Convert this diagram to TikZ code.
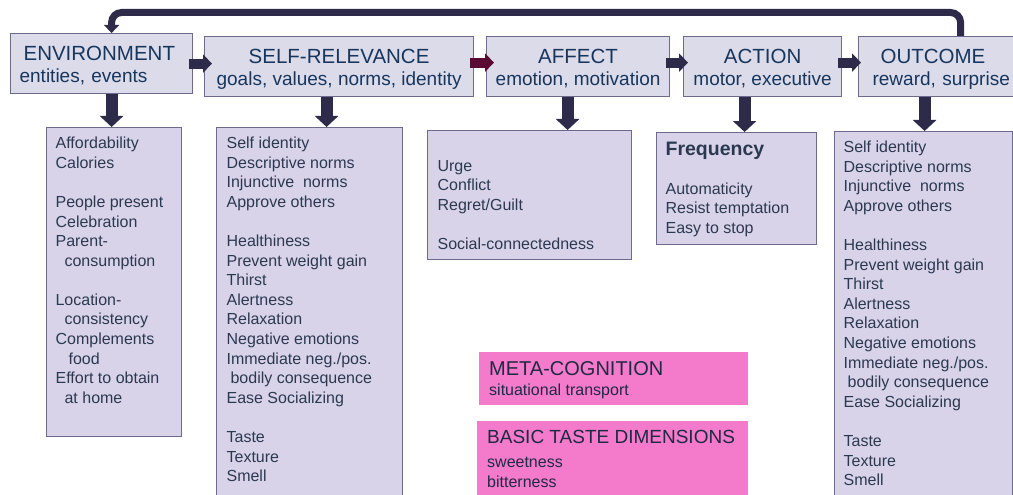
\documentclass[tikz,border=0pt]{standalone}
\usepackage{fontspec}
\setmainfont{Liberation Sans}
\usetikzlibrary{arrows.meta,calc}
\definecolor{arrowdark}{HTML}{2E2A4A}
\definecolor{arrowwine}{HTML}{5A0B33}
\definecolor{hdrfill}{HTML}{DCDBEA}
\definecolor{lstfill}{HTML}{D9D3EA}
\definecolor{boxline}{HTML}{6D6A8C}
\definecolor{pinkfill}{HTML}{F47ACB}
\definecolor{hdrtext}{HTML}{17365D}
\definecolor{lsttext}{HTML}{2B3950}
\definecolor{pinktext}{HTML}{1F2A44}
\newcommand\ttl{\fontsize{20.5}{22}\selectfont\rule{0pt}{19pt}}
\newcommand\fl{\rule{0pt}{12pt}}

\begin{document}
\begin{tikzpicture}[x=1pt,y=-1pt,
  hdr/.style={draw=boxline, line width=1.2pt, fill=hdrfill, anchor=north west, minimum height=60pt, inner sep=0pt, align=center, text=hdrtext, font=\fontsize{19}{22}\selectfont},
  lst/.style={draw=boxline, line width=1.2pt, fill=lstfill, anchor=north west, inner xsep=9pt, inner ysep=9pt, text=lsttext, font=\fontsize{16}{19.6}\selectfont},
  pinkbox/.style={fill=pinkfill, anchor=north west, inner xsep=10pt, inner ysep=9pt, text=pinktext, font=\fontsize{16}{20}\selectfont},
  harr/.style={draw=arrowdark, line width=10pt, -{Triangle[width=18pt,length=9pt]}},
  varr/.style={draw=arrowdark, line width=12pt, -{Triangle[width=23pt,length=11pt]}},
  fb/.style={draw=arrowdark, line width=7pt, rounded corners=10pt, -{Triangle[width=15pt,length=8pt]}}]
  \useasboundingbox (0,0) rectangle (1013,495);
  \clip (0,0) rectangle (1013,495);

  % stages
  \node[hdr, text width=164pt, inner xsep=9pt, align=left] (env) at (10,33) {{\ttl\hspace*{4pt}ENVIRONMENT}\\entities, events};
  \node[hdr, minimum width=269pt] (self) at (204,36) {{\ttl SELF-RELEVANCE}\\goals, values, norms, identity};
  \node[hdr, minimum width=183pt] (affect) at (486,36) {{\ttl AFFECT}\\emotion, motivation};
  \node[hdr, minimum width=158pt] (action) at (683,36) {{\ttl ACTION}\\motor, executive};
  \node[hdr, text width=144pt, inner xsep=14pt, align=left] (outcome) at (858,36) {{\ttl\hspace*{8pt}OUTCOME}\\reward, surprise};

  % determinants per stage
  \node[lst] (envlist) at (46,127) {\parbox[t][291pt][t]{117pt}{\fl Affordability\\Calories\\[19.6pt]People present\\Celebration\\Parent-\\\hspace*{9pt}consumption\\[19.6pt]Location-\\\hspace*{9pt}consistency\\Complements\\\hspace*{13pt}food\\Effort to obtain\\\hspace*{9pt}at home}};
  \node[lst, inner xsep=10pt] (selflist) at (216,127) {\parbox[t][400pt][t]{166pt}{\fl Self identity\\Descriptive norms\\Injunctive\ \ norms\\Approve others\\[19.6pt]Healthiness\\Prevent weight gain\\Thirst\\Alertness\\Relaxation\\Negative emotions\\Immediate neg./pos.\\\hspace*{4pt}bodily consequence\\Ease Socializing\\[19.6pt]Taste\\Texture\\Smell}};
  \node[lst, inner xsep=10pt] (affectlist) at (427,130) {\parbox[t][111pt][t]{184pt}{\fl\\Urge\\Conflict\\Regret/Guilt\\[19.6pt]Social-connectedness}};
  \node[lst] (actionlist) at (656,132) {\parbox[t][94pt][t]{142pt}{{\fontsize{19.5}{20}\selectfont\bfseries Frequency}\\[19.6pt]Automaticity\\Resist temptation\\Easy to stop}};
  \node[lst] (outcomelist) at (834,131) {\parbox[t][400pt][t]{160pt}{\fl Self identity\\Descriptive norms\\Injunctive\ \ norms\\Approve others\\[19.6pt]Healthiness\\Prevent weight gain\\Thirst\\Alertness\\Relaxation\\Negative emotions\\Immediate neg./pos.\\\hspace*{4pt}bodily consequence\\Ease Socializing\\[19.6pt]Taste\\Texture\\Smell}};

  % extra factors
  \node[pinkbox] (meta) at (479,352) {\parbox[t][35pt][t]{249pt}{{\fontsize{20}{20}\selectfont META-COGNITION}\\situational transport}};
  \node[pinkbox] (taste) at (477,421) {\parbox[t][100pt][t]{251pt}{{\fontsize{19}{20}\selectfont BASIC TASTE DIMENSIONS}\\[4pt]sweetness\\bitterness}};

  % flow between stages
  \draw[harr] ($(env.east)+(-4,0)$) -- ($(env.east -| self.west)+(8,0)$);
  \draw[harr, draw=arrowwine] ($(self.east)+(-4,-4)$) -- ($(self.east -| affect.west)+(8,-4)$);
  \draw[harr] ($(affect.east)+(-4,-4)$) -- ($(affect.east -| action.west)+(5,-4)$);
  \draw[harr] ($(action.east)+(-4,-4)$) -- ($(action.east -| outcome.west)+(3,-4)$);

  \foreach \h/\l/\dx in {env/envlist/10, self/selflist/-12.5, affect/affectlist/-10.5, action/actionlist/-18, outcome/outcomelist/-20}
    \draw[varr] ($(\h.south)+(\dx,0)$) -- ($(\h.south |- \l.north)+(\dx,0)$);

  % feedback loop
  \coordinate (fbtop) at (0,12.5);
  \coordinate (fbstart) at ($(outcome.north)+(16,0)$);
  \coordinate (fbend) at ($(env.north)+(10,0)$);
  \draw[fb] (fbstart) -- (fbstart |- fbtop) -- (fbend |- fbtop) -- (fbend);
\end{tikzpicture}
\end{document}
